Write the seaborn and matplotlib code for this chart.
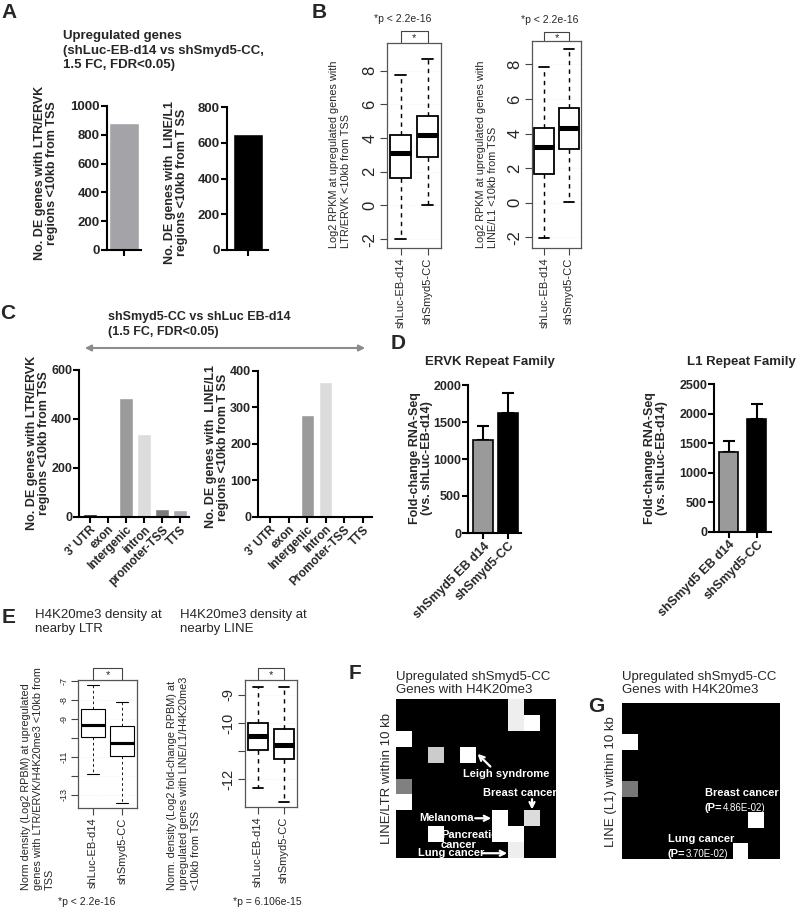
import matplotlib
matplotlib.use('Agg')
import matplotlib.pyplot as plt
import matplotlib.transforms as mtransforms
from matplotlib.patches import FancyArrowPatch
import numpy as np
import seaborn as sns

sns.set_style('ticks')
plt.rcParams['font.family'] = ['Liberation Sans', 'DejaVu Sans']

# ---------------- data ----------------
# A: number of upregulated DE genes near repeats
a_ltr_count = [880]
a_line_count = [650]

# B: log2 RPKM box summaries (shLuc-EB-d14, shSmyd5-CC)
box_groups = ['shLuc-EB-d14', 'shSmyd5-CC']
b_ltr_lo = [-2.0, 0.05]
b_ltr_q1 = [1.6, 2.9]
b_ltr_med = [3.1, 4.15]
b_ltr_q3 = [4.2, 5.3]
b_ltr_hi = [7.75, 8.7]
b_line_lo = [-2.05, 0.05]
b_line_q1 = [1.66, 3.1]
b_line_med = [3.24, 4.3]
b_line_q3 = [4.3, 5.5]
b_line_hi = [7.86, 8.92]

# C: genomic annotation of DE genes
c_ltr_cats = ["3' UTR", 'exon', 'Intergenic', 'intron', 'promoter-TSS', 'TTS']
c_ltr_counts = [10, 0, 486, 340, 30, 28]
c_line_cats = ["3' UTR", 'exon', 'Intergenic', 'Intron', 'Promoter-TSS', 'TTS']
c_line_counts = [0, 0, 278, 370, 0, 0]

# D: fold-change RNA-Seq of repeat families
d_groups = ['shSmyd5 EB d14', 'shSmyd5-CC']
d_ervk_mean = [1255, 1620]
d_ervk_err = [185, 270]
d_l1_mean = [1350, 1905]
d_l1_err = [190, 262]

# E: H4K20me3 density box summaries
e_ltr_lo = [-11.9, -13.45]
e_ltr_q1 = [-9.95, -10.98]
e_ltr_med = [-9.33, -10.25]
e_ltr_q3 = [-8.49, -9.37]
e_ltr_hi = [-7.21, -8.09]
e_line_lo = [-12.3, -12.8]
e_line_q1 = [-10.95, -11.27]
e_line_med = [-10.47, -10.77]
e_line_q3 = [-10.0, -10.21]
e_line_hi = [-8.73, -8.73]

# F / G: disease-association grids (0 = black, 1 = white)
f_cells = [
    [0, 0, 0, 0, 0, 0, 0, 0.93, 0, 0],
    [0, 0, 0, 0, 0, 0, 0, 0.93, 1, 0],
    [1, 0, 0, 0, 0, 0, 0, 0, 0, 0],
    [0, 0, 0.8, 0, 1, 0, 0, 0, 0, 0],
    [0, 0, 0, 0, 0, 0, 0, 0, 0, 0],
    [0.5, 0, 0, 0, 0, 0, 0, 0, 0, 0],
    [1, 0, 0, 0, 0, 0, 0, 0, 0, 0],
    [0, 0, 0, 0, 0, 0, 1, 0, 0.86, 0],
    [0, 0, 1, 0, 0, 0, 1, 1, 0, 0],
    [0, 0, 0, 0, 0, 0, 0, 0.93, 0, 0],
]
g_cells = [
    [0, 0, 0, 0, 0, 0, 0, 0, 0, 0],
    [0, 0, 0, 0, 0, 0, 0, 0, 0, 0],
    [1, 0, 0, 0, 0, 0, 0, 0, 0, 0],
    [0, 0, 0, 0, 0, 0, 0, 0, 0, 0],
    [0, 0, 0, 0, 0, 0, 0, 0, 0, 0],
    [0.47, 0, 0, 0, 0, 0, 0, 0, 0, 0],
    [0, 0, 0, 0, 0, 0, 0, 0, 0, 0],
    [0, 0, 0, 0, 0, 0, 0, 0, 1, 0],
    [0, 0, 0, 0, 0, 0, 0, 0, 0, 0],
    [0, 0, 0, 0, 0, 0, 0, 1, 0, 0],
]

# ---------------- figure helpers ----------------
W, H = 800, 916
fig = plt.figure(figsize=(W / 100, H / 100), dpi=100)


def add_ax(x0, y0, x1, y1):
    return fig.add_axes([x0 / W, 1 - y1 / H, (x1 - x0) / W, (y1 - y0) / H])


def label(x, y, s, **kw):
    fig.text(x / W, 1 - y / H, s, **kw)


def prism(ax, ticks, xlim, ylim, fs=9):
    sns.despine(ax=ax)
    for s in ['left', 'bottom']:
        ax.spines[s].set_linewidth(1.5)
        ax.spines[s].set_color('black')
    ax.set_xlim(*xlim)
    ax.set_ylim(*ylim)
    ax.set_yticks(ticks)
    ax.set_yticklabels([str(t) for t in ticks], fontweight='bold', fontsize=fs)
    ax.tick_params(width=1.5, length=4, pad=1, color='black')
    ax.set_xlabel('')
    ax.set_ylabel('')


def rbox(ax, lo, q1, med, q3, hi, lw, ylim, ticks, ticklabels, tick_fs):
    stats = [dict(whislo=lo[i], q1=q1[i], med=med[i], q3=q3[i], whishi=hi[i],
                  fliers=[], label=box_groups[i]) for i in range(2)]
    ax.bxp(stats, positions=[1, 2], widths=0.8, capwidths=0.4, showfliers=False,
           patch_artist=True,
           boxprops=dict(facecolor='white', edgecolor='black', linewidth=lw),
           medianprops=dict(color='black', linewidth=lw * 2.8, solid_capstyle='butt'),
           whiskerprops=dict(color='black', linewidth=lw * 0.8, linestyle=(0, (3, 3))),
           capprops=dict(color='black', linewidth=lw))
    ax.set_xlim(0.5, 2.5)
    ax.set_ylim(*ylim)
    ax.set_yticks(ticks)
    ax.set_yticklabels(ticklabels, fontsize=tick_fs, rotation=90, va='center')
    ax.set_xticks([1, 2])
    ax.set_xticklabels(box_groups, rotation=90, fontsize=8)
    ax.tick_params(length=5, width=0.8, color='#444444', pad=2)
    for s in ax.spines.values():
        s.set_color('#555555')
        s.set_linewidth(0.9)
    ax.grid(axis='y', color='#ececec', lw=0.5, ls=':')


def bracket(ax, ytop, ystar):
    tr = mtransforms.blended_transform_factory(ax.transData, ax.transAxes)
    ax.plot([1, 1, 2, 2], [1.0, ytop, ytop, 1.0], transform=tr, clip_on=False,
            color='#444444', lw=0.8)
    ax.text(1.5, ystar, '*', transform=tr, ha='center', va='center', fontsize=8)


# ---------------- panel letters ----------------
for ch, x, y in [('A', 1, 3), ('B', 312, 3), ('C', 0, 304), ('D', 391, 334),
                 ('E', 2, 608), ('F', 349, 664), ('G', 588, 697)]:
    label(x, y, ch, fontsize=15, fontweight='bold', va='top', ha='left')

# ---------------- A ----------------
label(63, 30, 'Upregulated genes\n(shLuc-EB-d14 vs shSmyd5-CC,\n1.5 FC, FDR<0.05)',
      fontsize=9.5, fontweight='bold', va='top', ha='left', linespacing=1.3)

ax = add_ax(107, 106, 141, 250)
sns.barplot(x=['LTR/ERVK'], y=a_ltr_count, color='#a4a4a8', width=0.9, saturation=1,
            errorbar=None, ax=ax)
prism(ax, list(range(0, 1001, 200)), (-0.5, 0.5), (0, 1000), fs=9.5)
ax.set_xticks([0])
ax.set_xticklabels([''])
label(46, 173, 'No. DE genes with LTR/ERVK\nregions <10kb from TSS', rotation=90,
      fontsize=9, fontweight='bold', ha='center', va='center', multialignment='center',
      linespacing=1.05)

ax = add_ax(227, 107, 268, 250)
sns.barplot(x=['LINE/L1'], y=a_line_count, color='black', width=0.73, saturation=1,
            errorbar=None, ax=ax)
prism(ax, list(range(0, 801, 200)), (-0.52, 0.48), (0, 800), fs=9.5)
ax.set_xticks([0])
ax.set_xticklabels([''])
label(176, 182, 'No. DE genes with  LINE/L1\nregions <10kb from T SS', rotation=90,
      fontsize=9, fontweight='bold', ha='center', va='center', multialignment='center',
      linespacing=1.05)

# ---------------- B ----------------
ax = add_ax(387, 43, 441, 248)
rbox(ax, b_ltr_lo, b_ltr_q1, b_ltr_med, b_ltr_q3, b_ltr_hi, 1.3, (-2.53, 9.64),
     [-2, 0, 2, 4, 6, 8], ['-2', '0', '2', '4', '6', '8'], 12)
bracket(ax, 1.057, 1.025)
label(403, 19, '*p < 2.2e-16', fontsize=7.5, ha='center', va='center')
label(340, 248, 'Log2 RPKM at upregulated genes with\nLTR/ERVK <10kb from TSS', rotation=90,
      fontsize=7.8, ha='center', va='bottom', multialignment='left')

ax = add_ax(532, 41, 581, 248)
rbox(ax, b_line_lo, b_line_q1, b_line_med, b_line_q3, b_line_hi, 1.3, (-2.62, 9.36),
     [-2, 0, 2, 4, 6, 8], ['-2', '0', '2', '4', '6', '8'], 12)
bracket(ax, 1.045, 1.013)
label(550, 20, '*p < 2.2e-16', fontsize=7.5, ha='center', va='center')
label(487, 248, 'Log2 RPKM at upregulated genes with\nLINE/L1 <10kb from TSS', rotation=90,
      fontsize=7.8, ha='center', va='bottom', multialignment='left')

# ---------------- C ----------------
label(108, 311, 'shSmyd5-CC vs shLuc EB-d14\n(1.5 FC, FDR<0.05)', fontsize=9,
      fontweight='bold', va='top', ha='left', linespacing=1.3)
fig.add_artist(FancyArrowPatch((82 / W, 1 - 348 / H), (368 / W, 1 - 348 / H),
                               transform=fig.transFigure, arrowstyle='<|-|>',
                               mutation_scale=9, color='#8c8c8c', lw=1.5))

c_ltr_colors = ['#1a1a1a', '#1a1a1a', '#9b9b9b', '#dcdcdc', '#7a7a7a', '#a9a9b0']
ax = add_ax(79, 370, 189, 516.7)
sns.barplot(x=c_ltr_cats, y=c_ltr_counts, hue=c_ltr_cats, palette=c_ltr_colors,
            width=0.75, saturation=1, legend=False, errorbar=None, ax=ax)
prism(ax, [0, 200, 400, 600], (-0.6, 5.5), (0, 600))
ax.set_xticks(range(6))
ax.set_xticklabels(c_ltr_cats, rotation=45, ha='right', rotation_mode='anchor',
                   fontweight='bold', fontsize=8.5)
label(38, 443, 'No. DE genes with LTR/ERVK\nregions <10kb from TSS', rotation=90,
      fontsize=9, fontweight='bold', ha='center', va='center', multialignment='center',
      linespacing=1.0)

c_line_colors = ['#1a1a1a', '#1a1a1a', '#9b9b9b', '#dcdcdc', '#7a7a7a', '#a9a9b0']
ax = add_ax(258, 370.7, 372, 516.7)
sns.barplot(x=c_line_cats, y=c_line_counts, hue=c_line_cats, palette=c_line_colors,
            width=0.7, saturation=1, legend=False, errorbar=None, ax=ax)
prism(ax, [0, 100, 200, 300, 400], (-0.65, 5.5), (0, 400))
ax.set_xticks(range(6))
ax.set_xticklabels(c_line_cats, rotation=45, ha='right', rotation_mode='anchor',
                   fontweight='bold', fontsize=8.5)
label(217, 447, 'No. DE genes with  LINE/L1\nregions <10kb from T SS', rotation=90,
      fontsize=9, fontweight='bold', ha='center', va='center', multialignment='center',
      linespacing=1.0)

# ---------------- D ----------------
d_colors = ['#9a9a9a', 'black']
for (x0, y0, x1, y1), means, errs, top, title, tx, yl_x, bw, xl in [
        ((468, 385, 521, 533), d_ervk_mean, d_ervk_err, 2000, 'ERVK Repeat Family', 490, 421, 0.8, (-0.6, 1.5)),
        ((714, 384.3, 771, 531.7), d_l1_mean, d_l1_err, 2500, 'L1 Repeat Family', 741, 656, 0.68, (-0.53, 1.51))]:
    ax = add_ax(x0, y0, x1, y1)
    sns.barplot(x=d_groups, y=means, hue=d_groups, palette=d_colors, edgecolor='black',
                linewidth=1.2, width=bw, saturation=1, legend=False, errorbar=None, ax=ax)
    ax.errorbar(range(2), means, yerr=[[0, 0], errs], fmt='none', ecolor='black',
                elinewidth=1.5, capsize=4, capthick=1.5, zorder=0.5)
    prism(ax, list(range(0, top + 1, 500)), xl, (0, top))
    ax.set_xticks(range(2))
    ax.set_xticklabels(d_groups, rotation=45, ha='right', rotation_mode='anchor',
                       fontweight='bold', fontsize=9)
    label(tx, 362, title, fontsize=9.5, fontweight='bold', ha='center', va='center')
    label(yl_x, 458, 'Fold-change RNA-Seq\n(vs. shLuc-EB-d14)', rotation=90, fontsize=9,
          fontweight='bold', ha='center', va='center', multialignment='center',
          linespacing=1.0)

# ---------------- E ----------------
label(35, 609, 'H4K20me3 density at\nnearby LTR', fontsize=9.5, va='top', ha='left')
label(180, 609, 'H4K20me3 density at\nnearby LINE', fontsize=9.5, va='top', ha='left')

ax = add_ax(78, 680, 137, 808)
rbox(ax, e_ltr_lo, e_ltr_q1, e_ltr_med, e_ltr_q3, e_ltr_hi, 0.8, (-13.7, -6.95),
     [-13, -12, -11, -10, -9, -8, -7], ['-13', '', '-11', '', '-9', '-8', '-7'], 6.5)
bracket(ax, 1.094, 1.04)
label(87, 902, '*p < 2.2e-16', fontsize=7.5, ha='center', va='center')
label(38, 890, 'Norm density (Log2 RPBM) at upregulated\ngenes with LTR/ERVK/H4K20me3 <10kb from\nTSS',
      rotation=90, fontsize=7.8, ha='center', va='bottom', multialignment='left')

ax = add_ax(245, 680, 297, 807)
rbox(ax, e_line_lo, e_line_q1, e_line_med, e_line_q3, e_line_hi, 1.3, (-12.98, -8.47),
     [-12, -11, -10, -9], ['-12', '', '-10', '-9'], 10.5)
bracket(ax, 1.094, 1.04)
label(267, 902, '*p = 6.106e-15', fontsize=7.5, ha='center', va='center')
label(184, 890, 'Norm. density (Log2 fold-change RPBM) at\nupregulated genes with LINE/L1/H4K20me3\n<10kb from TSS',
      rotation=90, fontsize=7.8, ha='center', va='bottom', multialignment='left')

# ---------------- F ----------------
wtxt = dict(color='white', fontsize=8, fontweight='bold')
warr = dict(arrowstyle='->', color='white', lw=1.6, mutation_scale=9,
            shrinkA=0, shrinkB=0)

label(396, 696, 'Upregulated shSmyd5-CC\nGenes with H4K20me3', fontsize=9.5,
      va='bottom', ha='left', linespacing=1.15)
ax = add_ax(396, 699, 556, 858)
sns.heatmap(np.array(f_cells), cmap='gray', vmin=0, vmax=1, cbar=False,
            xticklabels=False, yticklabels=False, ax=ax)
label(387, 778, 'LINE/LTR within 10 kb', rotation=90, fontsize=9.5, ha='center', va='center')
ax.text(6.9, 4.7, 'Leigh syndrome', ha='center', va='center', **wtxt)
ax.annotate('', xy=(5.1, 3.45), xytext=(5.9, 4.25), arrowprops=warr, annotation_clip=False)
ax.text(7.75, 5.9, 'Breast cancer', ha='center', va='center', clip_on=False, **wtxt)
ax.annotate('', xy=(8.5, 6.95), xytext=(8.5, 6.3), arrowprops=warr, annotation_clip=False)
ax.text(4.85, 7.5, 'Melanoma', ha='right', va='center', **wtxt)
ax.annotate('', xy=(5.95, 7.5), xytext=(4.95, 7.5), arrowprops=warr, annotation_clip=False)
ax.text(2.8, 8.85, 'Pancreatic\ncancer', ha='left', va='center', linespacing=0.95, **wtxt)
ax.text(1.4, 9.7, 'Lung cancer', ha='left', va='center', **wtxt)
ax.annotate('', xy=(6.95, 9.7), xytext=(5.4, 9.7), arrowprops=warr, annotation_clip=False)

# ---------------- G ----------------
label(622, 696, 'Upregulated shSmyd5-CC\nGenes with H4K20me3', fontsize=9.5,
      va='bottom', ha='left', linespacing=1.15)
ax = add_ax(622, 703, 780, 859)
sns.heatmap(np.array(g_cells), cmap='gray', vmin=0, vmax=1, cbar=False,
            xticklabels=False, yticklabels=False, ax=ax)
label(611, 782, 'LINE (L1) within 10 kb', rotation=90, fontsize=9.5, ha='center', va='center')
for x, y, name, pval in [(5.25, 5.8, 'Breast cancer', '4.86E-02)'),
                         (2.9, 8.75, 'Lung cancer', '3.70E-02)')]:
    ax.text(x, y, name, ha='left', va='center', **wtxt)
    t = ax.text(x, y + 0.9, '(P=', ha='left', va='center', **wtxt)
    ax.annotate(pval, xy=(1, 0), xycoords=t, ha='left', va='bottom', color='white',
                fontsize=7)

fig.savefig('out.png', dpi=100)
